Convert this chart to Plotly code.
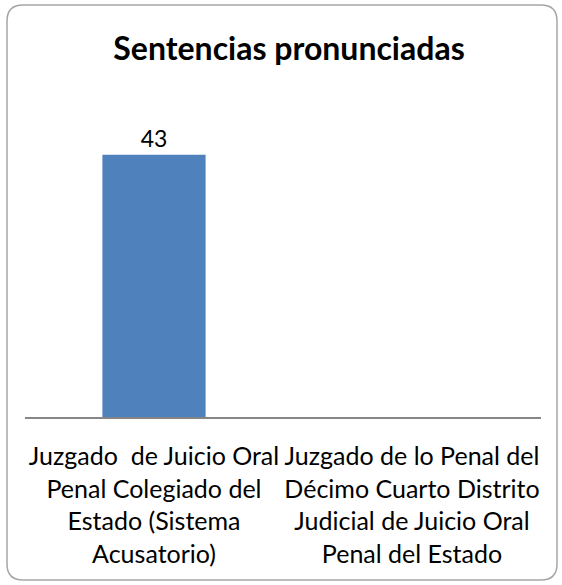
import plotly.graph_objects as go

categories = [
    "Juzgado  de Juicio Oral<br>Penal Colegiado del<br>Estado (Sistema<br>Acusatorio)",
    "Juzgado de lo Penal del<br>Décimo Cuarto Distrito<br>Judicial de Juicio Oral<br>Penal del Estado",
]
values = [43, None]
labels = ["43", ""]

W, H = 562, 585
L, R, T, B = 25, 21, 112, 168
pw, ph = W - L - R, H - T - B

def px(x):
    return (x - L) / pw

def py(y):
    return (H - B - y) / ph

# rounded frame
x0, y0, x1, y1, r = 7, 5, 557, 580, 16
pts = (
    f"M {px(x0+r)},{py(y0)} L {px(x1-r)},{py(y0)} "
    f"Q {px(x1)},{py(y0)} {px(x1)},{py(y0+r)} "
    f"L {px(x1)},{py(y1-r)} Q {px(x1)},{py(y1)} {px(x1-r)},{py(y1)} "
    f"L {px(x0+r)},{py(y1)} Q {px(x0)},{py(y1)} {px(x0)},{py(y1-r)} "
    f"L {px(x0)},{py(y0+r)} Q {px(x0)},{py(y0)} {px(x0+r)},{py(y0)} Z"
)

fig = go.Figure(
    go.Bar(
        x=[0, 1],
        y=values,
        width=0.4,
        marker=dict(color="#4f81bd", line=dict(width=0)),
        text=labels,
        textposition="outside",
        textfont=dict(family="Lato", size=23, color="#000000"),
        cliponaxis=False,
    )
)

fig.update_layout(
    width=W,
    height=H,
    margin=dict(l=L, r=R, t=T, b=B, pad=0),
    paper_bgcolor="white",
    plot_bgcolor="white",
    showlegend=False,
    title=dict(
        text="<b>Sentencias pronunciadas</b>",
        x=289 / W,
        xanchor="center",
        y=1 - 49 / H,
        yanchor="middle",
        font=dict(family="Lato", size=32, color="#000000"),
    ),
    xaxis=dict(
        tickmode="array",
        tickvals=[0, 1],
        ticktext=categories,
        range=[-0.5, 1.5],
        showline=True,
        linecolor="#868686",
        linewidth=2,
        showgrid=False,
        zeroline=False,
        ticks="",
        ticklabelstandoff=16,
        tickfont=dict(family="Lato", size=25, color="#000000"),
        fixedrange=True,
    ),
    yaxis=dict(
        range=[0, 50],
        visible=False,
        showgrid=False,
        zeroline=False,
        fixedrange=True,
    ),
    shapes=[
        dict(
            type="path",
            xref="paper",
            yref="paper",
            path=pts,
            line=dict(color="#a6a6a6", width=1.5),
            fillcolor="rgba(0,0,0,0)",
            layer="below",
        )
    ],
)

fig.write_html(
    "out.html",
    config={"displayModeBar": False},
    post_script="document.body.style.margin='0';",
)
